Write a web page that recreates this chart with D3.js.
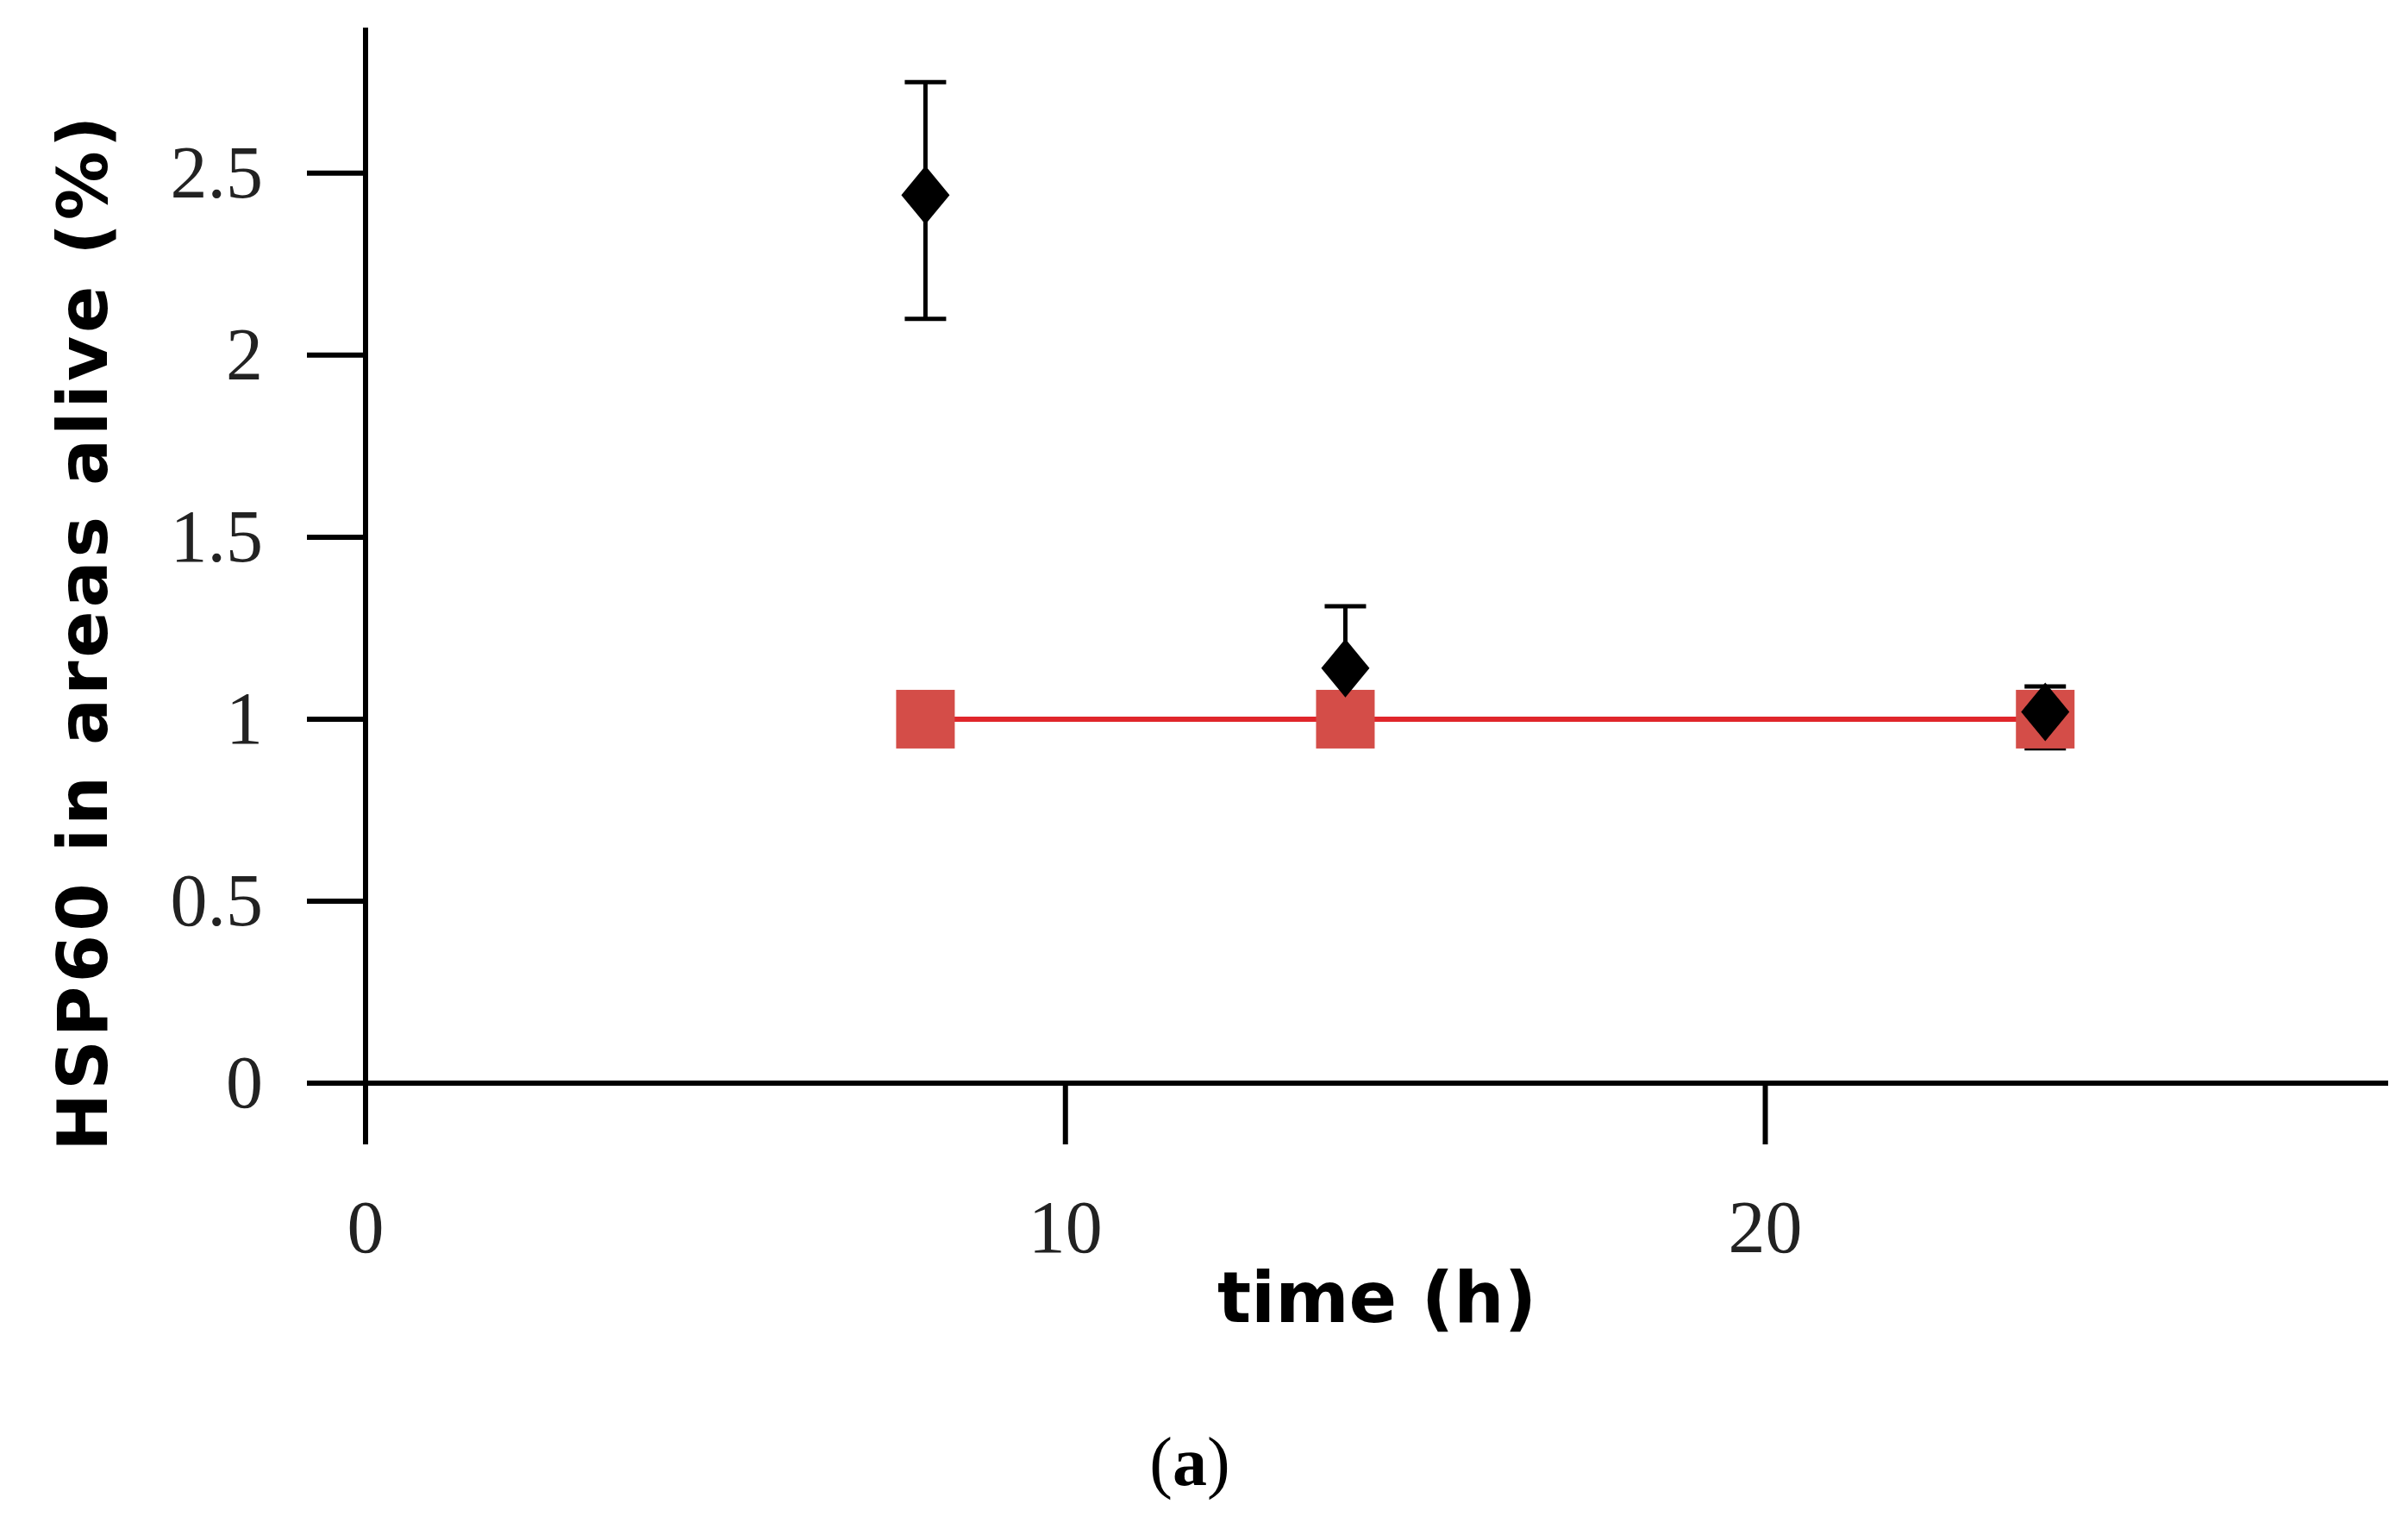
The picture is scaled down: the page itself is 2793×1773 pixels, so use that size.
<!DOCTYPE html>
<html><head><meta charset="utf-8">
<script src="https://cdn.jsdelivr.net/npm/d3@7"></script>
<style>body{margin:0;background:#fff}</style></head>
<body><svg id="c" width="2793" height="1773"></svg>
<script>
const times = [8, 14, 24]
const hspMean = [2.44, 1.14, 1.02]
const hspLow = [2.10, 0.97, 0.92]
const hspHigh = [2.75, 1.31, 1.09]
const control = [1.0, 1.0, 1.0]
const xTicks = [0, 10, 20]
const yTicks = [0, 0.5, 1, 1.5, 2, 2.5]

const svg = d3.select('#c')
const x = d3.scaleLinear().domain([0, 28.9]).range([424, 2770])
const y = d3.scaleLinear().domain([0, 2.9]).range([1256, 32])

// axes
svg.append('line').attr('x1', 356).attr('x2', 2770).attr('y1', y(0)).attr('y2', y(0))
    .attr('stroke', '#000').attr('stroke-width', 6)
svg.append('line').attr('x1', x(0)).attr('x2', x(0)).attr('y1', 32).attr('y2', 1327)
    .attr('stroke', '#000').attr('stroke-width', 6)

svg.selectAll('.yt').data(yTicks).join('line')
    .attr('x1', 356).attr('x2', x(0)).attr('y1', d => y(d)).attr('y2', d => y(d))
    .attr('stroke', '#000').attr('stroke-width', 6)
svg.selectAll('.yl').data(yTicks).join('text')
    .text(d => d).attr('x', 305).attr('y', d => y(d) + 28)
    .attr('text-anchor', 'end').attr('font-family', 'Liberation Serif').attr('font-size', 86)
    .attr('fill', '#222')

svg.selectAll('.xt').data(xTicks).join('line')
    .attr('x1', d => x(d)).attr('x2', d => x(d)).attr('y1', y(0)).attr('y2', 1327)
    .attr('stroke', '#000').attr('stroke-width', 6)
svg.selectAll('.xl').data(xTicks).join('text')
    .text(d => d).attr('x', d => x(d)).attr('y', 1452)
    .attr('text-anchor', 'middle').attr('font-family', 'Liberation Serif').attr('font-size', 86)
    .attr('fill', '#222')

svg.append('text').text('time (h)').attr('x', 1597).attr('y', 1533)
    .attr('text-anchor', 'middle').attr('font-family', 'DejaVu Sans').attr('font-weight', 'bold')
    .attr('font-size', 82)
svg.append('text').text('HSP60 in areas alive (%)')
    .attr('transform', `translate(124,${y(1.24)}) rotate(-90)`)
    .attr('text-anchor', 'middle').attr('font-family', 'DejaVu Sans').attr('font-weight', 'bold')
    .attr('font-size', 80).attr('letter-spacing', 4)

svg.append('text').attr('x', 1380).attr('y', 1722).attr('text-anchor', 'middle')
    .attr('font-family', 'Liberation Serif').attr('font-size', 80)
    .html('(<tspan font-weight="bold">a</tspan>)')

// HSP60 error bars (drawn under the control squares)
const hsp = times.map((t, i) => ({ t, v: hspMean[i], lo: hspLow[i], hi: hspHigh[i] }))
const eb = svg.selectAll('.eb').data(hsp).join('g').attr('stroke', '#000').attr('stroke-width', 5)
eb.append('line').attr('x1', d => x(d.t)).attr('x2', d => x(d.t)).attr('y1', d => y(d.lo)).attr('y2', d => y(d.hi))
eb.append('line').attr('x1', d => x(d.t) - 24).attr('x2', d => x(d.t) + 24).attr('y1', d => y(d.hi)).attr('y2', d => y(d.hi))
eb.append('line').attr('x1', d => x(d.t) - 24).attr('x2', d => x(d.t) + 24).attr('y1', d => y(d.lo)).attr('y2', d => y(d.lo))

// control series
const ctrl = times.map((t, i) => ({ t, v: control[i] }))
svg.append('path').datum(ctrl)
    .attr('d', d3.line().x(d => x(d.t)).y(d => y(d.v)))
    .attr('fill', 'none').attr('stroke', '#e0262b').attr('stroke-width', 6)
svg.selectAll('.sq').data(ctrl).join('rect')
    .attr('x', d => x(d.t) - 34).attr('y', d => y(d.v) - 34)
    .attr('width', 68).attr('height', 68).attr('fill', '#d44d48')

svg.selectAll('.dm').data(hsp).join('path')
    .attr('transform', d => `translate(${x(d.t)},${y(d.v)})`)
    .attr('d', 'M0,-34L28,0L0,34L-28,0Z').attr('fill', '#000')
</script></body></html>
